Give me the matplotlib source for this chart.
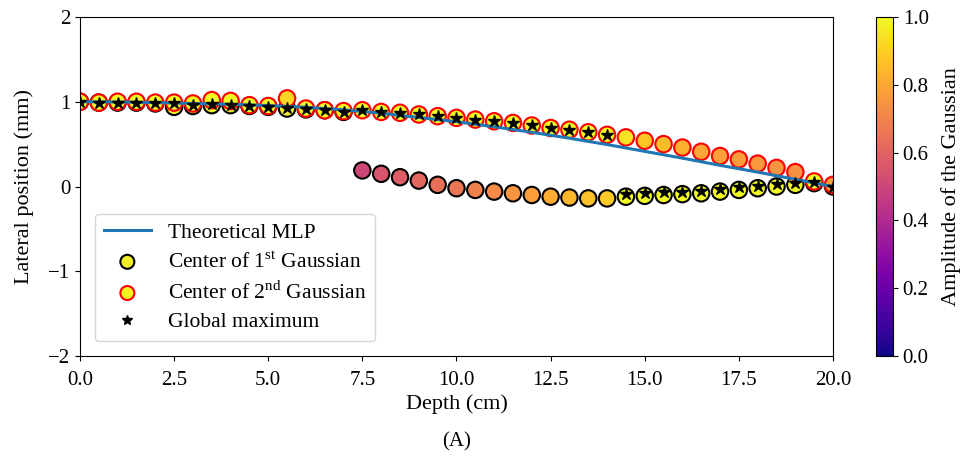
import numpy as np
import matplotlib
matplotlib.use('Agg')
import matplotlib.pyplot as plt

plt.rcParams['font.family'] = ['Liberation Serif', 'DejaVu Serif']
plt.rcParams['mathtext.fontset'] = 'custom'
plt.rcParams['mathtext.rm'] = 'Liberation Serif'
plt.rcParams['font.size'] = 15

# theoretical most likely path, read every 1 cm
mlp_depth = np.arange(0, 21, 1)
mlp_pos = [1.00, 0.998, 0.99, 0.98, 0.97, 0.955, 0.935, 0.905, 0.865, 0.815, 0.765,
           0.705, 0.64, 0.57, 0.495, 0.415, 0.335, 0.25, 0.17, 0.085, 0.0]

depth = np.arange(0, 20.01, 0.5)

# center of 1st Gaussian (black edge)
g1_pos = [1.00, 0.99, 0.99, 0.99, 0.98, 0.94, 0.95, 0.96, 0.96, 0.95, 0.94, 0.92, 0.91, 0.90, 0.88,
          0.19, 0.15, 0.11, 0.07, 0.02, -0.02, -0.04, -0.06, -0.08, -0.10, -0.12, -0.13, -0.14, -0.14,
          -0.12, -0.11, -0.10, -0.09, -0.08, -0.06, -0.04, -0.02, 0.00, 0.02, 0.04, 0.00]
g1_amp = [0.98] * 15 + [0.50, 0.55, 0.58, 0.61, 0.64, 0.66, 0.69, 0.72, 0.75, 0.78, 0.81, 0.84, 0.87, 0.89,
                        1.0, 1.0, 1.0, 1.0, 1.0, 1.0, 1.0, 1.0, 1.0, 1.0, 0.9, 0.9]

# center of 2nd Gaussian (red edge)
g2_pos = [1.00, 0.99, 1.00, 1.00, 0.99, 0.99, 0.98, 1.02, 1.01, 0.96, 0.95, 1.04, 0.92, 0.90, 0.89,
          0.90, 0.88, 0.87, 0.85, 0.83, 0.81, 0.79, 0.77, 0.75, 0.72, 0.69, 0.67, 0.64, 0.61,
          0.58, 0.54, 0.50, 0.46, 0.41, 0.36, 0.32, 0.27, 0.22, 0.17, 0.06, 0.02]
g2_amp = [1.0] * 11 + [0.92] + [1.0] * 17 + [0.95, 0.88, 0.86, 0.83, 0.80, 0.78, 0.77, 0.76, 0.75, 0.74, 1.0, 0.78]

# global maximum
star_pos = [1.00, 0.99, 0.99, 0.99, 0.98, 0.98, 0.96, 0.97, 0.96, 0.95, 0.94, 0.93, 0.91, 0.90, 0.88,
            0.90, 0.88, 0.87, 0.85, 0.83, 0.81, 0.79, 0.77, 0.75, 0.72, 0.69, 0.67, 0.64, 0.61,
            -0.09, -0.08, -0.07, -0.06, -0.05, -0.03, -0.01, 0.01, 0.03, 0.04, 0.05, 0.0]

fig = plt.figure(figsize=(9.66, 4.66), dpi=100)
ax = fig.add_axes([0.0828, 0.236, 0.7795, 0.7275])
cax = fig.add_axes([0.9068, 0.236, 0.0176, 0.7275])

ax.plot(mlp_depth, mlp_pos, color='#1f77b4', lw=2.2, label='Theoretical MLP')
sc = ax.scatter(depth, g1_pos, c=g1_amp, cmap='plasma', vmin=0, vmax=1, s=140,
                edgecolors='black', linewidths=1.5, label='Center of 1$^{\\rm st}$ Gaussian')
ax.scatter(depth, g2_pos, c=g2_amp, cmap='plasma', vmin=0, vmax=1, s=140,
           edgecolors='red', linewidths=1.5, label='Center of 2$^{\\rm nd}$ Gaussian')
ax.plot(depth, star_pos, '*', color='black', ms=9, ls='none', label='Global maximum', zorder=3)

ax.set_xlim(0, 20)
ax.set_ylim(-2, 2)
ax.set_yticks([-2, -1, 0, 1, 2])
ax.tick_params(labelsize=15)
ax.tick_params(axis='x', pad=7)
ax.set_xlabel('Depth (cm)', fontsize=16, labelpad=3)
ax.set_ylabel('Lateral position (mm)', fontsize=16, labelpad=10)
ax.legend(loc='lower left', fontsize=15.5, borderaxespad=0.7, handlelength=2.2,
          markerscale=0.85, labelspacing=0.4)

cb = fig.colorbar(sc, cax=cax)
cb.set_ticks([0, 0.2, 0.4, 0.6, 0.8, 1.0])
cb.ax.tick_params(labelsize=15)
cb.set_label('Amplitude of the Gaussian', fontsize=16, labelpad=9)

fig.text(0.473, 0.052, '(A)', ha='center', va='center', fontsize=15)

fig.savefig('out.png', dpi=100)
